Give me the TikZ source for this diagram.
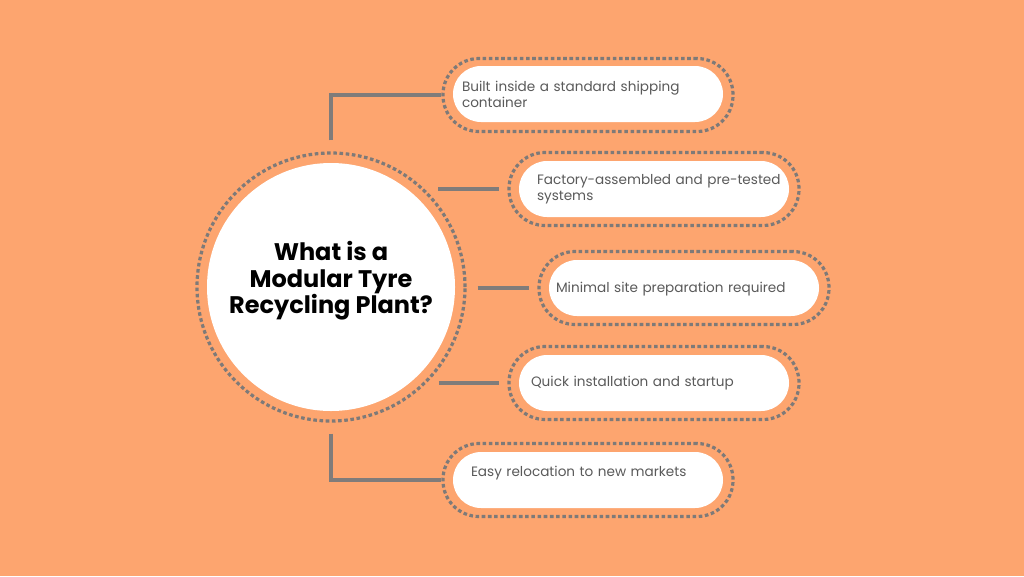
\documentclass[tikz,border=0pt]{standalone}
\usepackage{fontspec}
\setmainfont{Poppins}
\definecolor{bg}{HTML}{FDA56F}
\definecolor{dotc}{HTML}{7E7A78}
\definecolor{linec}{HTML}{807C7A}
\definecolor{txt}{HTML}{5A5A5A}
\begin{document}
\begin{tikzpicture}[x=1pt,y=-1pt,
  ring/.style={circle, draw=dotc, line width=3.2pt, dash pattern=on 3.6pt off 2.6pt, minimum size=268pt, inner sep=0pt},
  disc/.style={circle, fill=white, minimum size=248pt, inner sep=0pt},
  pillring/.style={rectangle, rounded corners=36pt, draw=dotc, line width=3.2pt, dash pattern=on 3.6pt off 2.6pt, minimum width=290pt, minimum height=73pt, inner sep=0pt},
  pill/.style={rectangle, rounded corners=28pt, fill=white, minimum width=270pt, minimum height=56pt, text width=270pt, inner xsep=0pt, inner ysep=0pt, align=left, font=\fontsize{13.6}{16}\selectfont, text=txt},
  conn/.style={draw=linec, line width=4pt}]
\useasboundingbox (0,0) rectangle (1024,576);
\fill[bg] (0,0) rectangle (1024,576);
% central circle
\node[ring] (ring) at (331,287) {};
\node[disc] (disc) at (331,287) {};
\node[font=\fontsize{24}{26.5}\selectfont\bfseries, align=center, text=black] (title) at (331,281) {What is a\\Modular Tyre\\Recycling Plant?};
% pills
\node[pillring] (o1) at (588,95) {};
\node[pill] (p1) at (588,94) {\hspace*{9pt}Built inside a standard shipping\\\hspace*{9pt}container};
\node[pillring] (o2) at (654,189) {};
\node[pill] (p2) at (654,189) {\hspace*{18pt}Factory-assembled and pre-tested\\\hspace*{18pt}systems};
\node[pillring] (o3) at (684,288) {};
\node[pill] (p3) at (684,288) {\hspace*{7pt}\raisebox{-1.5pt}[\height][\depth]{Minimal site preparation required}};
\node[pillring] (o4) at (654,383) {};
\node[pill] (p4) at (654,383) {\hspace*{12pt}Quick installation and startup};
\node[pillring] (o5) at (588,480) {};
\node[pill] (p5) at (588,480) {\hspace*{18pt}\raisebox{7pt}[\height][\depth]{Easy relocation to new markets}};
% connectors
\draw[conn] (ring.north) ++(0,-11) |- (o1.west);
\draw[conn, shorten <=15pt, shorten >=8pt] (o2.west -| ring.47.6) -- (o2.west);
\draw[conn, shorten <=11pt, shorten >=8pt] (o3.west -| ring.east) -- (o3.west);
\draw[conn, shorten <=12pt, shorten >=8pt] (o4.west -| ring.-45.1) -- (o4.west);
\draw[conn] (ring.south) ++(0,11) |- (o5.west);
\end{tikzpicture}
\end{document}
